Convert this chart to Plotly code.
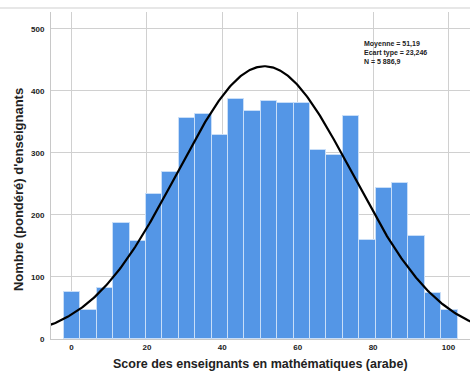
import numpy as np
import plotly.graph_objects as go

# Histogram data
bin_start = -2.0
bin_width = 4.35
counts = [75, 47, 81, 186, 158, 233, 269, 356, 362, 328, 387, 368, 384,
          380, 380, 305, 296, 360, 159, 243, 251, 166, 74, 46]

# Summary statistics shown in the chart
mean = 51.19
sd = 23.246
n_total = 5886.9
stats_lines = ["Moyenne = 51,19", "Ecart type = 23,246", "N = 5 886,9"]

x_ticks = [0, 20, 40, 60, 80, 100]
y_ticks = [0, 100, 200, 300, 400, 500]

centers = [bin_start + bin_width * (i + 0.5) for i in range(len(counts))]

# Normal curve scaled to histogram
xc = np.linspace(-8, 110, 400)
yc = n_total * bin_width / (sd * np.sqrt(2 * np.pi)) * np.exp(-0.5 * ((xc - mean) / sd) ** 2)

fig = go.Figure()
fig.add_trace(go.Bar(
    x=centers, y=counts, width=bin_width,
    marker=dict(color="rgb(84,150,230)", line=dict(color="rgb(200,222,248)", width=1)),
    hoverinfo="x+y", showlegend=False,
))
fig.add_trace(go.Scatter(
    x=xc, y=yc, mode="lines", line=dict(color="black", width=2.2),
    showlegend=False, hoverinfo="skip",
))

font_fam = "Liberation Sans, Arial, sans-serif"
tickfont = dict(size=8, color="#222", family=font_fam, weight="bold")
annotations = [
    dict(text="Score des enseignants en mathématiques (arabe)", xref="paper", yref="paper",
         x=0.5, y=-16 / 327, xanchor="center", yanchor="top", showarrow=False,
         font=dict(size=12.5, color="#222", family=font_fam, weight="bold")),
    dict(text="Nombre (pondéré) d'enseignants", xref="paper", yref="paper",
         x=-33 / 419.5, y=(339 - 190) / 327, xanchor="center", yanchor="middle",
         textangle=-90, showarrow=False,
         font=dict(size=13, color="#222", family=font_fam, weight="bold")),
    dict(text="<br>".join(stats_lines), xref="paper", yref="paper",
         x=(363 - 50.5) / 419.5, y=(339 - 53.3) / 327,
         xanchor="left", yanchor="middle", align="left", showarrow=False, borderpad=0,
         font=dict(size=7, color="#222", family=font_fam, weight="bold")),
]

fig.update_layout(
    width=470, height=375,
    margin=dict(l=50.5, r=0, t=12, b=36),
    paper_bgcolor="white", plot_bgcolor="white",
    bargap=0,
    font=dict(family=font_fam, color="#222"),
    xaxis=dict(
        range=[-5.43, 105.7], tickvals=x_ticks, ticktext=[str(v) for v in x_ticks],
        showgrid=True, gridcolor="#d0d0d0", gridwidth=1,
        showline=True, linecolor="#c8c8c8", linewidth=1,
        ticks="", tickfont=tickfont,
        zeroline=False, fixedrange=True,
    ),
    yaxis=dict(
        range=[-0.5, 527], tickvals=y_ticks, ticktext=[str(v) for v in y_ticks],
        showgrid=True, gridcolor="#d0d0d0", gridwidth=1,
        showline=True, linecolor="#c8c8c8", linewidth=1,
        ticks="", tickfont=tickfont, ticklabelstandoff=4,
        zeroline=False, fixedrange=True,
    ),
    shapes=[dict(type="line", xref="paper", yref="paper", x0=-0.2, x1=1.0,
                 y0=1 + 4 / 327, y1=1 + 4 / 327, line=dict(color="#cfcfcf", width=1))],
    annotations=annotations,
)

fig.write_html("out.html")
